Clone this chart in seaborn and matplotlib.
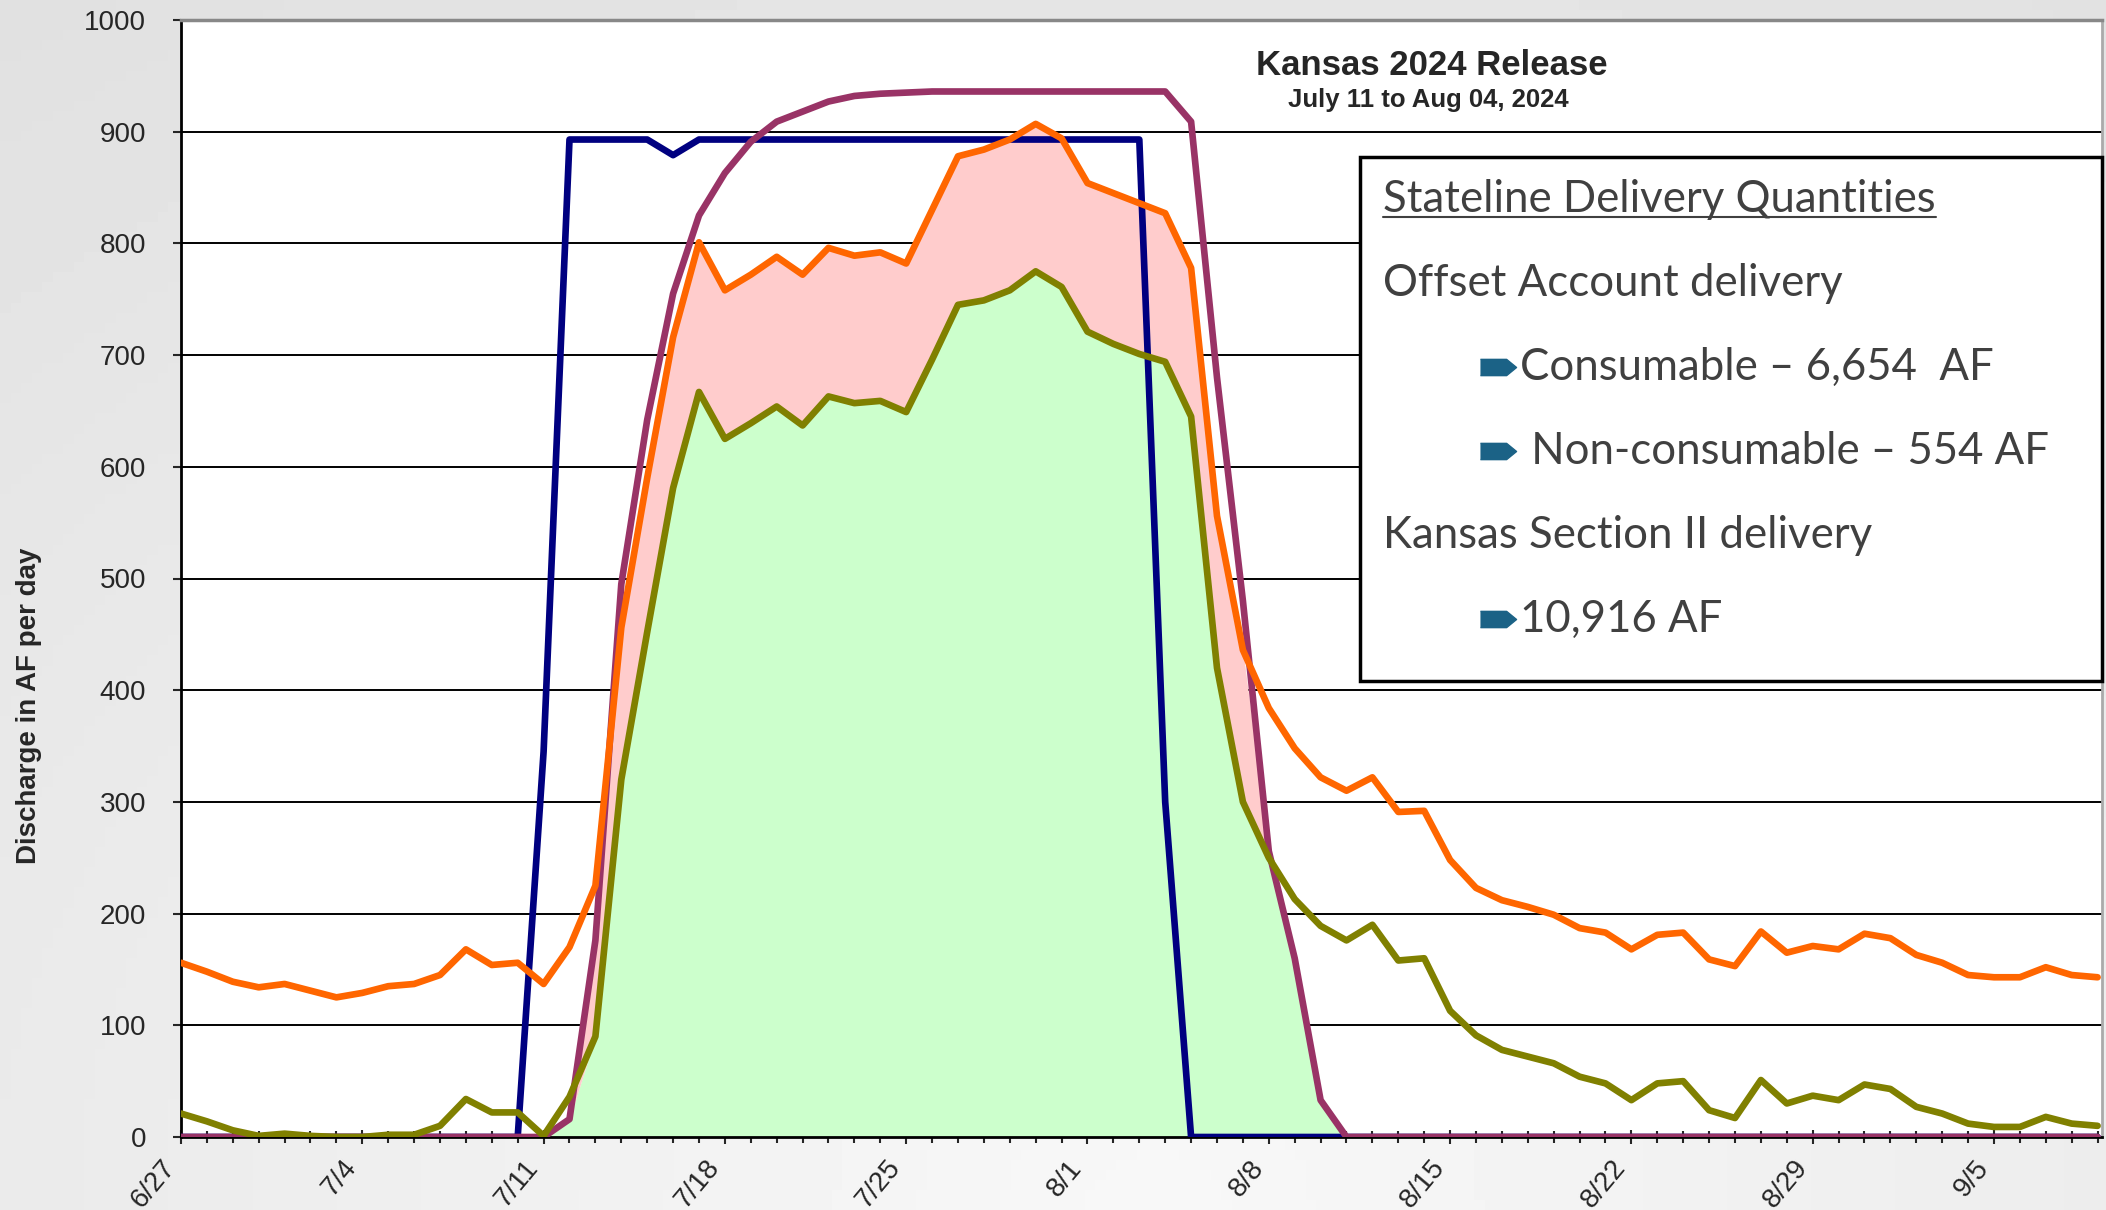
import matplotlib
matplotlib.use('Agg')
import matplotlib.pyplot as plt
from matplotlib.patches import Rectangle
from matplotlib.lines import Line2D
import seaborn as sns
import pandas as pd
import numpy as np

# daily values, 6/27/2024 .. 9/9/2024 (AF per day)
dates = pd.date_range('2024-06-27', '2024-09-09', freq='D')

release_af = [0] * 14 + [345, 893, 893, 893, 893, 879] + [893] * 18 + [300] + [0] * 36

routed_af = [0] * 15 + [16, 176, 495, 642, 755, 825, 863, 891, 909, 918, 927, 932, 934, 935,
                        936, 936, 936, 936, 936, 936, 936, 936, 936, 936,
                        909, 680, 480, 256, 160, 33] + [0] * 30

stateline_af = [156, 148, 139, 134, 137, 131, 125, 129, 135, 137, 145, 168, 154, 156, 137,
                170, 225, 456, 590, 716, 801, 758, 772, 788, 772, 796, 789, 792, 782, 830,
                878, 884, 893, 907, 894, 854, 845, 836, 827, 778, 556, 436, 384, 348, 322,
                310, 322, 291, 292, 248, 223, 212, 206, 199, 187, 183, 168, 181, 183, 159,
                153, 184, 165, 171, 168, 182, 178, 163, 156, 145, 143, 143, 152, 145, 143]

offset_af = [21, 14, 6, 1, 3, 1, 0, 0, 2, 2, 10, 34, 22, 22, 1,
             36, 90, 320, 452, 581, 667, 625, 639, 654, 637, 663, 657, 659, 649, 696,
             745, 749, 758, 775, 761, 721, 710, 701, 694, 645, 420, 300, 250, 213, 189,
             176, 190, 158, 160, 113, 91, 78, 72, 66, 54, 48, 33, 48, 50, 24,
             17, 51, 30, 37, 33, 47, 43, 27, 21, 12, 9, 9, 18, 12, 10]

week_labels = ['6/27', '7/4', '7/11', '7/18', '7/25', '8/1', '8/8', '8/15', '8/22', '8/29', '9/5']

box_lines = ['Stateline Delivery Quantities', 'Offset Account delivery',
             'Consumable \u2013 6,654  AF', ' Non-consumable \u2013 554 AF',
             'Kansas Section II delivery', '10,916 AF']

sns.set_style('white')
plt.rcParams['font.family'] = ['Liberation Sans', 'DejaVu Sans']

fig = plt.figure(figsize=(21.06, 12.10), dpi=100, facecolor='#EAEAEA')

# soft grey slide background
bg = fig.add_axes([0, 0, 1, 1], zorder=-10)
gx, gy = np.meshgrid(np.linspace(0, 1, 200), np.linspace(0, 1, 120))
shade = 0.972 - 0.075 * np.sqrt(((gx - 0.55) * 1.3) ** 2 + gy ** 2)
bg.imshow(shade, cmap='gray', vmin=0, vmax=1, extent=[0, 1, 0, 1], origin='lower', aspect='auto')
bg.axis('off')

ax = fig.add_axes([181 / 2106, 1 - 1137 / 1210, 1921 / 2106, 1117 / 1210])
ax.set_facecolor('white')

green_top = np.minimum(offset_af, routed_af)
pink_top = np.minimum(stateline_af, routed_af)
ax.fill_between(dates, 0, green_top, color='#CCFFCC', lw=0, zorder=1)
ax.fill_between(dates, green_top, np.maximum(pink_top, green_top), color='#FFCCCC', lw=0, zorder=1)

sns.lineplot(x=dates, y=release_af, color='#000080', lw=4.8, ax=ax, zorder=3)
sns.lineplot(x=dates, y=routed_af, color='#993366', lw=4.8, ax=ax, zorder=4)
sns.lineplot(x=dates, y=stateline_af, color='#FF6600', lw=4.8, ax=ax, zorder=5)
sns.lineplot(x=dates, y=offset_af, color='#808000', lw=4.8, ax=ax, zorder=6)

ax.set_ylim(0, 1000)
ax.set_xlim(dates[0], dates[0] + pd.Timedelta(days=74.17))
ax.set_yticks(range(0, 1001, 100))
ax.set_xticks(dates[::7][:len(week_labels)])
ax.set_xticklabels(week_labels, rotation=50, ha='right', va='top')
ax.set_xticks(dates, minor=True)
ax.tick_params(axis='y', labelsize=20, length=6, width=1.5, direction='out', left=True, pad=19)
ax.tick_params(axis='x', which='major', labelsize=20, length=10, width=1.5, direction='inout', bottom=True, pad=8)
ax.tick_params(axis='x', which='minor', length=8.5, width=1.5, direction='inout', bottom=True)

ax.set_axisbelow(True)
ax.yaxis.grid(True, color='black', lw=1.4, zorder=0.5)
ax.xaxis.grid(False)
for side in ['left', 'bottom']:
    ax.spines[side].set_color('black')
    ax.spines[side].set_linewidth(2)
ax.spines['top'].set_color('#888888')
ax.spines['top'].set_linewidth(2.5)
ax.spines['right'].set_color('#AAAAAA')
ax.spines['right'].set_linewidth(2)

ax.set_xlabel('')
ax.set_ylabel('Discharge in AF per day', fontsize=20, fontweight='bold')
ax.yaxis.set_label_coords(-0.0724, 0.386)

fig.text(0.680, 0.946, 'Kansas 2024 Release', fontsize=25, fontweight='bold', ha='center', va='center')
fig.text(0.678, 0.917, 'July 11 to Aug 04, 2024', fontsize=18.5, fontweight='bold', ha='center', va='center')

# summary box
box = Rectangle((1360 / 2106, 1 - 681 / 1210), 742 / 2106, 524 / 1210, transform=fig.transFigure,
                facecolor='white', edgecolor='black', lw=2.5, zorder=10)
fig.add_artist(box)

line_y = [1 - v / 1210 for v in [199, 283, 367, 451, 536, 619]]
line_x = [0.6567, 0.6567, 0.7217, 0.7217, 0.6567, 0.7217]
box_font = ['Lato', 'DejaVu Sans']
texts = []
for txt, x, y in zip(box_lines, line_x, line_y):
    t = fig.text(x, y, txt, fontsize=31.5, family=box_font, color='#404040', ha='left', va='center', zorder=11)
    texts.append(t)

bullet = [(-1, -0.45), (0.45, -0.45), (1, 0), (0.45, 0.45), (-1, 0.45)]
for y in [line_y[2], line_y[3], line_y[5]]:
    fig.add_artist(Line2D([0.7113], [y], transform=fig.transFigure, marker=bullet, ms=26,
                          color='#1B6286', lw=0, zorder=11))

fig.canvas.draw()
bb = texts[0].get_window_extent(fig.canvas.get_renderer())
uy = (bb.y0 + 3) / fig.bbox.height
fig.add_artist(Line2D([bb.x0 / fig.bbox.width, bb.x1 / fig.bbox.width], [uy, uy],
                      transform=fig.transFigure, color='#404040', lw=1.5, zorder=11))

fig.savefig('out.png', dpi=100, facecolor=fig.get_facecolor())
